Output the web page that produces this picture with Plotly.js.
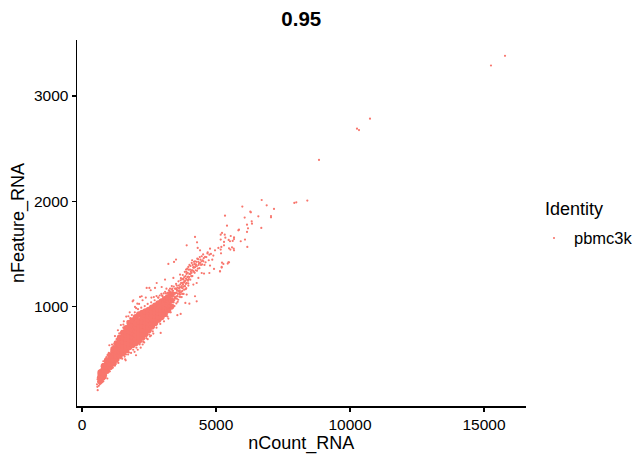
<!DOCTYPE html>
<html><head><meta charset="utf-8">
<script src="https://cdn.plot.ly/plotly-3.0.1.min.js"></script>
<style>html,body{margin:0;padding:0;background:#fff}</style></head>
<body><div id="chart" style="width:639px;height:464px"></div>
<script>
const title = "0.95";
const seriesName = "pbmc3k";
const legendTitle = "Identity";
const tickX = [0, 5000, 10000, 15000];
const tickY = [1000, 2000, 3000];

// Dense body of the cloud, estimated column by column: one count, several feature values
const denseCount = [690,810,930,1050,1170,1290,1410,1530,1650,1770,1890,2010,2130,2250,2370,2490,2610,2730,2850,2970,3090,3210,3330];
const denseFeature = [
 [295,325,352,375],
 [335,368,402,434],
 [390,423,456,490],
 [428,462,497,538],
 [465,500,535,568,596],
 [502,536,570,604,650],
 [535,570,605,640,675,705],
 [560,595,632,668,705,750],
 [585,622,658,695,730,765,795],
 [615,650,688,725,762,800,845],
 [635,672,710,748,785,822,870],
 [655,692,730,768,805,842,900],
 [675,712,750,788,825,862,925],
 [705,742,780,818,855,892,940],
 [740,776,812,848,884,920,955],
 [775,810,845,880,915,950,970],
 [810,845,880,915,950,990],
 [845,878,912,945,978,1010],
 [875,908,942,975,1030],
 [900,935,970,1005,1050],
 [930,965,1000,1035,1070],
 [965,1005,1050,1090],
 [1000,1060,1115]
];

// Individually readable points: the long tail
const tailPoints = [[15784,3381],[15261,3289],[10746,2784],[10261,2689],[10336,2676],[8843,2392],[8407,2006],[7996,1990],[7922,1984],[6705,2012],[6891,1961],[7164,1927],[5982,1949],[6280,1901],[6300,1895],[6580,1857],[7052,1860],[7052,1847],[5336,1863],[6070,1845],[6332,1809],[6343,1787],[6157,1778],[6690,1747],[5410,1768],[6194,1743],[5858,1730],[5833,1724],[6157,1709],[5224,1699],[5325,1683],[5549,1670],[5672,1657],[5672,1641],[5349,1654],[6082,1636],[5922,1620],[5623,1623],[5522,1620],[5473,1633],[5175,1636],[5175,1683],[5299,1614],[5299,1582],[6168,1566],[5597,1563],[5660,1550],[5672,1534],[5485,1553],[5534,1541],[5199,1566],[5175,1541],[5187,1506],[5224,1417],[5485,1420],[5437,1408],[5212,1370],[5149,1335]];

// Upper and lower fringe of the cloud
const fringePoints = [[4217,1661],[3906,1582],[4292,1610],[4317,1557],[4404,1534],[3508,1446],[3434,1424],[3222,1405],[4690,1515],[4777,1550],[4963,1534],[5088,1557],[4466,1478],[4590,1471],[4752,1493],[4901,1484],[4528,1430],[4404,1414],[4217,1430],[4093,1414],[3968,1376],[3881,1351],[3658,1304],[3409,1272],[3098,1256],[2787,1224],[2513,1177],[2413,1177],[2563,1155],[2973,1186],[2724,1177],[2227,1098],[2165,1092],[1916,1060],[2065,1028],[1978,997],[1729,908],[1543,829],[1393,718],[1232,639],[1020,633],[983,535],[796,481],[858,434],
[4279,1050],[4217,1098],[4006,1028],[3856,1035],[3682,930],[3558,918],[3222,886],[2936,750],[2662,744],[2538,718],[2264,640],[2015,538],[1630,490],[1356,465],[1232,440],[945,317],[796,290],[585,206],[572,238],[647,276],[5461,1421],[5275,1405],[5150,1335],[5212,1376],[4777,1389],[4926,1357],[4752,1319],[4466,1319],[4553,1313],[4342,1272],[4155,1209],[3968,1199],[4279,1224],[4093,1288],[3782,1256],[3844,1193],[3533,1130],[3658,1114],[3906,1114]];

// Ridge between 2900 and 5000 counts, where points thin out
const ridgePoints = [[3410,1010],[3440,1060],[3480,1085],[3520,1030],[3555,1100],[3590,1065],[3625,1140],[3660,1090],[3700,1180],[3735,1120],[3770,1210],[3810,1160],[3850,1245],[3890,1175],[3930,1280],[3965,1220],[4005,1310],[4040,1255],[4085,1345],[4120,1290],[4160,1375],[4205,1320],[4250,1400],[4290,1340],[4340,1425],[4380,1365],[3385,1135],[3425,1190],[3470,1075],[3510,1215],[3545,1150],[3600,1240],[3640,1125],[3690,1270],[3725,1195],[3760,1300],[3800,1230],[3835,1330],[3880,1265],[3925,1360],[3960,1285],[4010,1395],[4060,1330],[4110,1440],[4150,1370],[4195,1405],[4240,1345],[4300,1455],[4350,1395],[4420,1445],[4480,1400],[4540,1460],[4610,1420],[4680,1505],[4730,1440],[4810,1500],[4860,1445],[3395,1150],[3450,1005],[3530,1165],[3610,1200],[3680,1250],[3750,1175],[3820,1230],[3900,1310],[3415,1105],[3490,1130],[3570,1045],[3650,1155],[3720,1090],[3790,1120],[3870,1165],
[3340,1050],[3360,1095],[3310,1020],[3330,1130],[3295,1075],[3270,1000],[3265,1120],[3240,1155],[3285,1170],[3350,1195],[3400,1065],[3460,1120],[3500,1170],[3540,1075],[3580,1120],[3620,1175],[3670,1210],[3710,1140],[3750,1225],[3780,1265],[3830,1195],[3860,1290],[3905,1225],[3945,1320],[3985,1260],[4030,1350],[4075,1290],[4130,1395],[4175,1330],[4225,1375],[4270,1425],[4320,1360],[4370,1410],[4440,1395],[4500,1440],[4570,1395],[4640,1470],[3000,1100],[3050,1125],[3100,1140],[3150,1170],[3190,1130],[3120,1090],[3060,1075],[2960,1120],[2900,1105],[2840,1085],[2780,1100],[2680,1090],[2590,1085],[2900,870],[2960,880],[3030,900],[3100,915],[3160,945],[3230,960],[3290,970],[2820,855],[2740,830],[2660,815],
[3060,950],[3120,975],[3180,985],[3240,1010],[3300,1030],[3150,1025],[3210,990],[3260,1045],[3320,985],[3375,1005],[3420,1040],[3355,1160],[3300,1110],[3230,1090],[3170,1060],[3130,1010],[3220,1130],[3280,1145],[3380,1100],[3440,1130],[3510,1095],[3560,1180],[3600,1150],[3660,1135],[3700,1225],[3745,1150],[3790,1190],[3830,1240],[3875,1215],[3915,1255],[3955,1245],[4000,1280],[4045,1310],[4090,1320],[4140,1340],[4185,1370],[4235,1395],[4285,1385],[4330,1450],[4395,1470],[4460,1430],[4520,1495],[3150,1100],[3080,1060],[3010,1050],[3040,980],[3100,1030],[3470,1170],[3535,1200],[3655,1185],[3735,1260],[3815,1280],[3890,1330],[3970,1350],[4050,1385],[4180,1425],[4120,1345],[3450,1090],[3570,1155],[3630,1095]];

// Edge of the dense body, including the low-count end
const edgePoints = [[560,262],[580,310],[600,285],[610,335],[625,248],[640,350],[655,300],[670,395],[590,325],[615,305],[640,272],[665,262],[700,270],[730,285],[760,300],[790,320],[720,405],[750,430],[780,455],[820,310],[860,330],[900,350],[870,490],[910,520],[950,540],[1000,560],[1040,385],[1090,410],[1130,590],[1170,625],[1210,645],[1260,455],[1300,475],[1100,575],[1150,420],[1190,440],[1240,665],[1290,690],[1340,495],[1390,745],[1440,510],[1490,770],[1540,800],[1590,525],[1640,545],[1700,860],[1750,565],[1800,890],[1860,920],[1910,590],[1970,945],[2030,610],[2090,975],[2150,640],[2210,990],[2280,665],[2340,1005],[2400,700],[2450,1025],[2510,735],[2580,1040],[2640,765],[2710,1060],[2780,800],[2850,1085],[2920,835],[2990,1105],[3060,860],[3130,1125],[3190,905],[3250,1150],[3310,945],[3370,1170],
[1500,505],[1610,500],[1720,545],[1830,560],[1960,570],[2080,590],[2190,610],[2320,660],[2450,690],[2575,725],[1230,720],[1120,640],[1340,775],[1450,825],[1560,860],[1650,905],[1780,945],[1890,1050],[2020,985],[2130,1025],[2260,1060],[2380,1085]];

const allPoints = [...tailPoints, ...fringePoints, ...ridgePoints, ...edgePoints];
const denseX = [], denseY = [];
denseCount.forEach((c, i) => denseFeature[i].forEach(f => { denseX.push(c); denseY.push(f); }));

const data = [
 {type:'scatter', mode:'markers', x:denseX, y:denseY, showlegend:false, hoverinfo:'skip',
  marker:{color:'#F8766D', size:6.2, line:{width:0}}},
 {type:'scatter', mode:'markers', name:seriesName, x:allPoints.map(p=>p[0]), y:allPoints.map(p=>p[1]),
  marker:{color:'#F8766D', size:2.2, line:{width:0}}}
];
const font = "'Liberation Sans', Arial, sans-serif";
const W = 562;
const H = 366.5;
const layout = {
 width:639, height:464, paper_bgcolor:'#fff', plot_bgcolor:'#fff',
 margin:{l:77, r:0, t:40, b:57.5},
 font:{family:font, color:'#000', size:15.5},
 title:{text:'<b>'+title+'</b>', font:{size:20.5, family:font}, x:0.4715, xanchor:'center', y:0.96, yanchor:'middle'},
 xaxis:{domain:[0,448.7/W], range:[-187,16556], tickvals:tickX, ticktext:tickX.map(String), showgrid:false, zeroline:false,
  showline:true, linecolor:'#000', linewidth:1.5, ticks:'outside', ticklen:4, tickwidth:1.2, tickcolor:'#000',
  tickfont:{size:15.5}, title:{text:'nCount_RNA', font:{size:18}, standoff:3}},
 yaxis:{range:[56,3531], tickvals:tickY, ticktext:tickY.map(String), showgrid:false, zeroline:false,
  showline:true, linecolor:'#000', linewidth:1.5, ticks:'outside', ticklen:4, tickwidth:1.2, tickcolor:'#000',
  tickfont:{size:15.5}, title:{text:'nFeature_RNA', font:{size:18}, standoff:4}},
 showlegend:true,
 legend:{x:(534-77)/W, xanchor:'left', y:(406.5-221)/H, yanchor:'top',
  font:{size:16.5}, itemwidth:30, bgcolor:'rgba(0,0,0,0)', borderwidth:0},
 annotations:[{text:legendTitle, xref:'paper', yref:'paper', x:(544-77)/W, y:(406.5-209)/H, xanchor:'left', yanchor:'middle',
  showarrow:false, font:{size:18}, borderpad:0}]
};
Plotly.newPlot('chart', data, layout, {displayModeBar:false, staticPlot:true});
</script>
</body></html>
